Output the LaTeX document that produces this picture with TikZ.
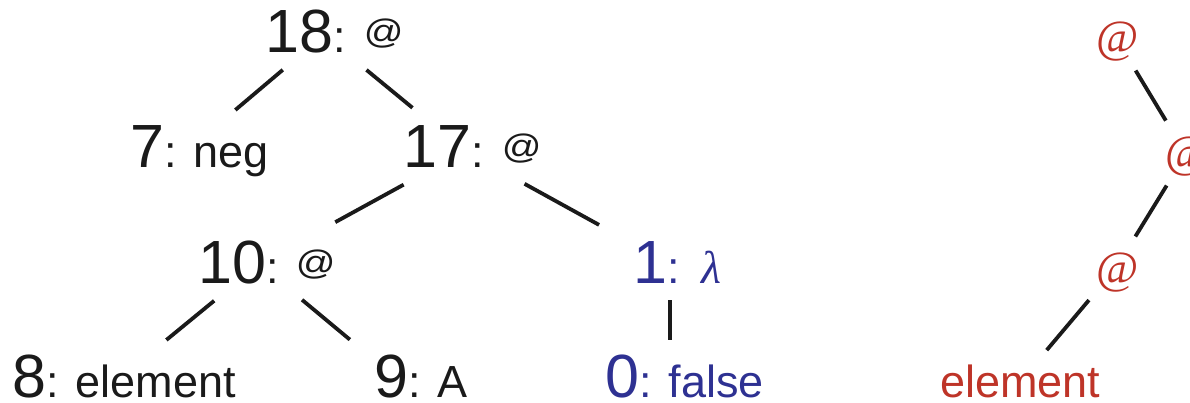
\documentclass[tikz,border=0pt]{standalone}
\usepackage{fontspec}
\setmainfont{Liberation Sans}
\newfontfamily\serifred{Liberation Serif}
\usepackage{graphicx}
\definecolor{nblue}{RGB}{46,49,146}
\definecolor{nred}{RGB}{190,52,40}
\definecolor{ink}{RGB}{26,26,26}
\newcommand\Dg[1]{{\fontsize{61}{61}\selectfont #1}}
\newcommand\At{\raisebox{9pt}{\scalebox{1.15}[1]{\fontsize{34}{34}\selectfont @}}}
\newcommand\RAt{{\serifred\fontsize{46}{46}\selectfont @}}
\newcommand\Lam{{\serifred\itshape\fontsize{46}{46}\selectfont λ}}
\begin{document}
\begin{tikzpicture}[x=1pt,y=-1pt,
  lbl/.style={anchor=base west, inner sep=0pt, font=\fontsize{45}{45}\selectfont, text=ink},
  edge/.style={line width=3.8pt, draw=ink}]
\useasboundingbox (0,0) rectangle (1190,403);
\clip (0,0) rectangle (1190,403);
% labels
\node[lbl] (n18) at (265.4,53) {\Dg{18}:\hspace{18pt}\At};
\node[lbl] (n7) at (130,168) {\Dg{7}: neg};
\node[lbl] (n17) at (403.4,168) {\Dg{17}:\hspace{18pt}\At};
\node[lbl] (n10) at (198.4,283) {\Dg{10}:\hspace{17pt}\At};
\node[lbl,text=nblue] (n1) at (633.4,283) {\Dg{1}: \hspace{5pt}\Lam};
\node[lbl] (n8) at (12.4,397) {\Dg{8}: element};
\node[lbl] (n9) at (374,397) {\Dg{9}: A};
\node[lbl,text=nblue] (n0) at (605.4,397) {\Dg{0}: false};
\node[lbl,text=nred] (ra) at (1096,53) {\RAt};
\node[lbl,text=nred] (rb) at (1165,168) {\RAt};
\node[lbl,text=nred] (rc) at (1096,283) {\RAt};
\node[lbl,text=nred] (rd) at (940,397) {element};
% connector hubs
\coordinate (p18) at (324,35);
\coordinate (p7) at (188,150);
\coordinate (p17) at (465,151);
\coordinate (p10) at (259,264);
\coordinate (p1) at (670,264);
\coordinate (p8) at (120,378);
\coordinate (p9) at (396,378);
\coordinate (p0) at (670,378);
\coordinate (r1) at (1116,38);
\coordinate (r2) at (1186,154);
\coordinate (r3) at (1116,268);
\coordinate (r4) at (1019,383);
% connectors
\draw[edge, shorten <=54pt, shorten >=62pt] (p18) -- (p7);
\draw[edge, shorten <=55pt, shorten >=68pt] (p18) -- (p17);
\draw[edge, shorten <=70pt, shorten >=87pt] (p17) -- (p10);
\draw[edge, shorten <=68pt, shorten >=81pt] (p17) -- (p1);
\draw[edge, shorten <=58pt, shorten >=60pt] (p10) -- (p8);
\draw[edge, shorten <=56pt, shorten >=60pt] (p10) -- (p9);
\draw[edge, shorten <=36pt, shorten >=38pt] (p1) -- (p0);
\draw[edge, shorten <=38pt, shorten >=39pt] (r1) -- (r2);
\draw[edge, shorten <=37pt, shorten >=37pt] (r2) -- (r3);
\draw[edge, shorten <=42pt, shorten >=43pt] (r3) -- (r4);
\end{tikzpicture}
\end{document}
